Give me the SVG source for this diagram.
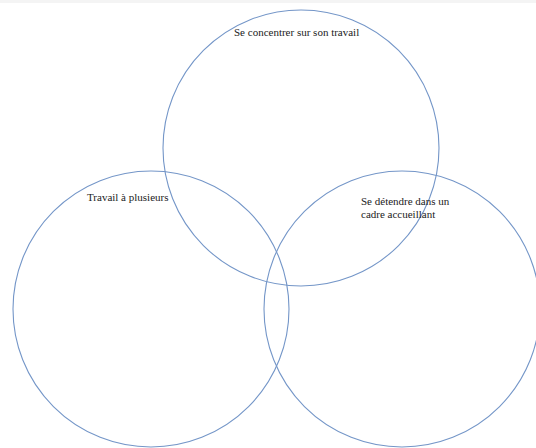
<svg xmlns="http://www.w3.org/2000/svg" width="536" height="448" viewBox="0 0 536 448">
<style>
.c{fill:none;stroke:#7496c8;stroke-width:1.1}
.t{font-family:'Liberation Serif','Times New Roman',Times,serif;font-size:11px;fill:#222}
</style>
<rect x="0" y="0" width="536" height="448" fill="#ffffff"/>
<rect x="0" y="0" width="536" height="3" fill="#f4f4f4"/>
<g id="top">
<circle class="c" cx="301" cy="148" r="138"/>
<text class="t" x="234" y="36" font-family="Liberation Serif, serif">Se concentrer sur son travail</text>
</g>
<g id="left">
<circle class="c" cx="151" cy="309" r="138"/>
<text class="t" x="87" y="201" font-family="Liberation Serif, serif">Travail à plusieurs</text>
</g>
<g id="right">
<circle class="c" cx="402" cy="309" r="138"/>
<text class="t" x="361" y="205" font-family="Liberation Serif, serif">Se détendre dans un</text>
<text class="t" x="361" y="218" font-family="Liberation Serif, serif">cadre accueillant</text>
</g>
<g id="connectors"/>
</svg>
